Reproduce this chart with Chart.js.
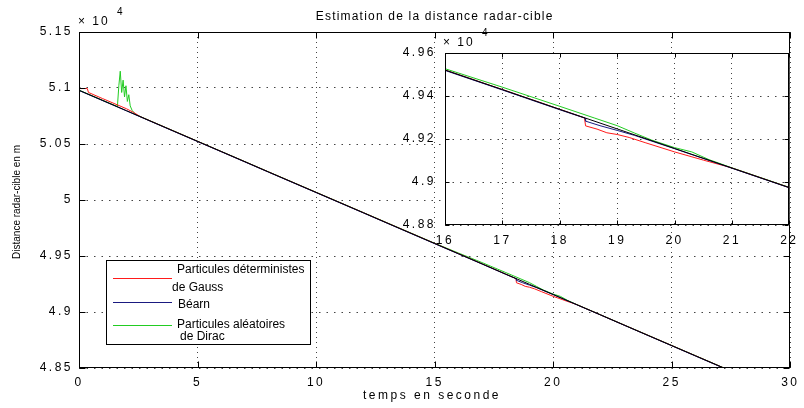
<!DOCTYPE html>
<html>
<head>
<meta charset="utf-8">
<script src="https://cdn.jsdelivr.net/npm/chart.js@4"></script>
<style>
  html,body{margin:0;padding:0;background:#fff;}
  #wrap{position:relative;width:804px;height:408px;overflow:hidden;}
  #main{position:absolute;left:0;top:0;}
  #inset{position:absolute;left:390px;top:20px;}
</style>
</head>
<body>
<div id="wrap">
  <canvas id="main" width="804" height="408"></canvas>
  <canvas id="inset" width="414" height="240"></canvas>
</div>
<script>
// distance radar-cible (m) vs temps (s)
const temps = [0,1,2,3,4,5,6,7,8,9,10,11,12,13,14,15,16,17,18,19,20,21,22,23,24,25,26,27,28,29,30];
const distRef = [50980,50889,50798,50706,50615,50524,50433,50342,50250,50159,50068,49977,49886,49794,49703,49612,49521,49430,49338,49247,49156,49065,48974,48882,48791,48700,48609,48518,48426,48335,48244];

const tGauss = [0,0.35,0.4,1,2,2.3,2.6,4,8,12,16,17,18,18.43,18.45,18.65,18.82,19,19.21,19.5,20,20.5,20.9,21,22,26,30];
const dGauss = [50995,50995,50960,50905,50815,50782,50743,50615,50250,49886,49521,49430,49338,49298,49261,49246,49229,49221,49207,49182,49140,49102,49073,49065,48974,48609,48244];

const tBearn = [0,2,4,6,8,10,12,14,16,17,18,18.44,18.45,18.7,19,19.3,20,21,22,24,26,28,30];
const dBearn = [50978,50796,50613,50431,50248,50066,49884,49701,49519,49428,49336,49297,49283,49262,49240,49217,49155,49064,48973,48790,48607,48425,48242];

const tDirac = [0,1,1.62,1.68,1.74,1.8,1.86,1.92,1.98,2.04,2.1,2.16,2.24,2.4,4,8,12,15,16,17,18,18.6,19,19.3,19.6,20,20.3,20.6,21,22,26,30];
const dDirac = [50981,50890,50835,51020,51150,50960,51070,50920,51020,50880,50940,50840,50800,50762,50616,50251,49887,49614,49527,49441,49352,49298,49262,49228,49195,49160,49140,49104,49066,48975,48610,48245];

const xTicksMain = [0,5,10,15,20,25,30];
const yTicksMain = [48500,49000,49500,50000,50500,51000,51500];
const xTicksInset = [16,17,18,19,20,21,22];
const yTicksInset = [48800,49000,49200,49400,49600];

const legendLabels = [['Particules déterministes','de Gauss'],['Béarn'],['Particules aléatoires','de Dirac']];
const colors = {gauss:'#ff1a1a', bearn:'#1a1a80', dirac:'#22cc22', ref:'#000000'};

const FONT = "'Liberation Sans', Arial, sans-serif";

function pts(t, d){ return t.map((v,i)=>({x:v, y:d[i]})); }
function makeSets(){
  return [
    {label:'ref', data:pts(temps,distRef), borderColor:colors.ref, order:0},
    {label:'Béarn', data:pts(tBearn,dBearn), borderColor:colors.bearn, order:1},
    {label:'Gauss', data:pts(tGauss,dGauss), borderColor:colors.gauss, order:2},
    {label:'Dirac', data:pts(tDirac,dDirac), borderColor:colors.dirac, order:3}
  ];
}
function fmtDist(v){ return String(Number((v/1e4).toFixed(2))); }

function axes(xMin,xMax,yMin,yMax,xT,yT,yW,xH,yPad,xPad,dX,dY){
  return {
    x:{type:'linear', min:xMin, max:xMax,
      afterBuildTicks:s=>{ s.ticks = xT.map(v=>({value:v})); },
      afterFit:s=>{ s.height = xH; },
      ticks:{autoSkip:false, maxRotation:0, padding:xPad, color:'#000', font:{family:FONT,size:12}},
      grid:{color:'#444', lineWidth:1, drawTicks:false},
      border:{display:false, dash:dX}},
    y:{type:'linear', min:yMin, max:yMax,
      afterBuildTicks:s=>{ s.ticks = yT.map(v=>({value:v})); },
      afterFit:s=>{ s.width = yW; },
      ticks:{padding:yPad, color:'#000', font:{family:FONT,size:12}, callback:v=>fmtDist(v)},
      grid:{color:'#444', lineWidth:1, drawTicks:false},
      border:{display:false, dash:dY}}
  };
}

function boxAndTicks(chart, len){
  const {ctx, chartArea:a, scales:{x,y}} = chart;
  ctx.save();
  ctx.strokeStyle='#000'; ctx.lineWidth=1;
  const L=Math.round(a.left)+0.5, R=Math.round(a.right)-0.5, T=Math.round(a.top)+0.5, B=Math.round(a.bottom)-0.5;
  ctx.strokeRect(L,T,R-L,B-T);
  ctx.beginPath();
  x.ticks.forEach(t=>{ const p=Math.round(x.getPixelForValue(t.value))+0.5; ctx.moveTo(p,B); ctx.lineTo(p,B-len); ctx.moveTo(p,T); ctx.lineTo(p,T+len); });
  y.ticks.forEach(t=>{ const p=Math.round(y.getPixelForValue(t.value))+0.5; ctx.moveTo(L,p); ctx.lineTo(L+len,p); ctx.moveTo(R,p); ctx.lineTo(R-len,p); });
  ctx.stroke();
  ctx.restore();
}

function expo(ctx, x, y){
  ctx.font='12px '+FONT; ctx.textAlign='left'; ctx.textBaseline='middle'; ctx.fillStyle='#000';
  ctx.letterSpacing='2px';
  ctx.fillText('× 10', x, y);
  ctx.font='10px '+FONT;
  ctx.fillText('4', x+39, y-10);
}

const mainDeco = {
  id:'mainDeco',
  beforeDraw(chart){ chart.ctx.letterSpacing='2.5px'; },
  afterDraw(chart){
    const ctx=chart.ctx, a=chart.chartArea;
    boxAndTicks(chart, 6);
    ctx.save();
    ctx.fillStyle='#000';
    // title
    ctx.font='12px '+FONT; ctx.textAlign='center'; ctx.textBaseline='middle'; ctx.letterSpacing='1.2px';
    ctx.fillText('Estimation de la distance radar-cible', (a.left+a.right)/2, 17);
    // x label
    ctx.letterSpacing='2.5px';
    ctx.fillText('temps en seconde', 432, 396);
    // y label
    ctx.save();
    ctx.translate(17, (a.top+a.bottom)/2+2); ctx.rotate(-Math.PI/2);
    ctx.font='10px '+FONT; ctx.letterSpacing='0px';
    ctx.fillText('Distance radar-cible en m', 0, 0);
    ctx.restore();
    expo(ctx, 78, 22);
    // legend
    const bx=106, by=260, bw=204, bh=84;
    ctx.fillStyle='#fff'; ctx.fillRect(bx,by,bw,bh);
    ctx.strokeStyle='#000'; ctx.lineWidth=1; ctx.strokeRect(bx+0.5,by+0.5,bw,bh);
    const lineY=[278,302,325], txtY=[[270,288],[305],[325,337]], txtX=[[177,172],[178],[177,180]];
    const cols=[colors.gauss, colors.bearn, colors.dirac];
    ctx.font='12px '+FONT; ctx.textAlign='left'; ctx.textBaseline='middle'; ctx.letterSpacing='0px';
    legendLabels.forEach((lines,i)=>{
      ctx.strokeStyle=cols[i]; ctx.beginPath(); ctx.moveTo(113,lineY[i]+0.5); ctx.lineTo(172,lineY[i]+0.5); ctx.stroke();
      ctx.fillStyle='#000';
      lines.forEach((s,j)=>ctx.fillText(s, txtX[i][j], txtY[i][j]));
    });
    ctx.restore();
  }
};

const insetDeco = {
  id:'insetDeco',
  beforeDraw(chart){
    const ctx=chart.ctx, a=chart.chartArea;
    ctx.save(); ctx.fillStyle='#fff'; ctx.fillRect(a.left,a.top,a.right-a.left,a.bottom-a.top); ctx.restore();
    ctx.letterSpacing='2.5px';
  },
  afterDraw(chart){
    boxAndTicks(chart, 4);
    const ctx=chart.ctx; ctx.save(); expo(ctx, 53, 23); ctx.restore();
  }
};

const common = {
  responsive:false, animation:false, events:[],
  plugins:{legend:{display:false}, tooltip:{enabled:false}, title:{display:false}},
  elements:{point:{radius:0}, line:{borderWidth:1, tension:0}}
};

new Chart(document.getElementById('main'), {
  type:'line',
  data:{datasets:makeSets()},
  options:Object.assign({}, common, {
    layout:{padding:{left:0, top:32, right:7, bottom:0}},
    scales:axes(0,30,48500,51500,xTicksMain,yTicksMain,79,40,6,7,[1,4],[1.5,6])
  }),
  plugins:[mainDeco]
});

new Chart(document.getElementById('inset'), {
  type:'line',
  data:{datasets:makeSets()},
  options:Object.assign({}, common, {
    layout:{padding:{left:0, top:33, right:7, bottom:0}},
    scales:axes(16,22,48800,49600,xTicksInset,yTicksInset,55,35,9,8,[1,4],[1.5,6])
  }),
  plugins:[insetDeco]
});
</script>
</body>
</html>
